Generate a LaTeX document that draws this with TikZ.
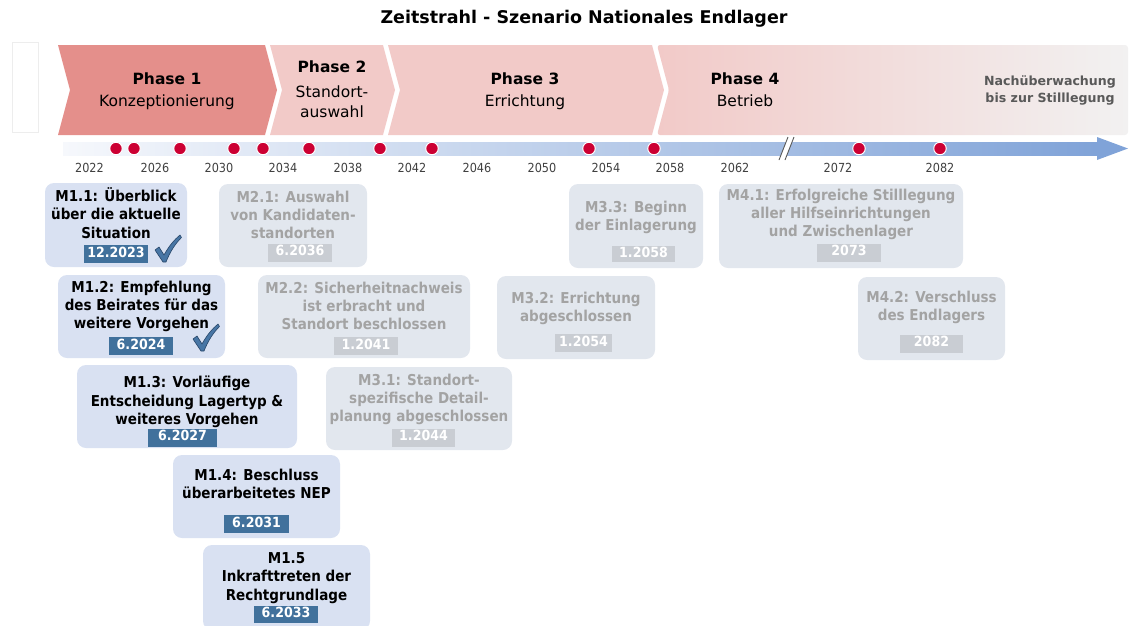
\documentclass[tikz,border=0pt]{standalone}
\usepackage{fontspec}
\setmainfont{DejaVu Sans}
\newfontfamily\condfont{DejaVu Sans Condensed}

% colours
\definecolor{phaseA}{RGB}{228,143,139}
\definecolor{phaseB}{RGB}{242,202,200}
\definecolor{phaseEnd}{RGB}{242,241,241}
\definecolor{barL}{RGB}{246,248,252}
\definecolor{barM}{RGB}{196,213,238}
\definecolor{barR}{RGB}{128,163,216}
\definecolor{dotred}{RGB}{204,0,51}
\definecolor{boxblue}{RGB}{217,225,242}
\definecolor{boxgray}{RGB}{226,231,238}
\definecolor{badgeblue}{RGB}{65,113,156}
\definecolor{badgegray}{RGB}{201,205,211}
\definecolor{textgray}{RGB}{163,163,163}
\definecolor{yeargray}{RGB}{64,64,64}
\definecolor{notegray}{RGB}{89,89,89}
\definecolor{tickblue}{RGB}{72,118,165}
\definecolor{tickedge}{RGB}{40,70,105}

% strut: 1em high, .27em deep, so a node's centre sits on the cap-height centre
\newcommand\capstrut{\rule[-0.27em]{0pt}{1em}}

\tikzset{
  txt/.style={inner sep=0pt, align=center,
    execute at begin node=\capstrut, execute at end node=\capstrut},
  ms box/.style={rounded corners=9pt, inner sep=0pt},
  blue box/.style={ms box, fill=boxblue},
  gray box/.style={ms box, fill=boxgray},
  ms text/.style={txt, font=\condfont\bfseries\fontsize{15}{18.3}\selectfont},
  blue text/.style={ms text, text=black},
  gray text/.style={ms text, text=textgray},
  badge/.style={txt, font=\condfont\bfseries\fontsize{14}{16}\selectfont,
    text=white, minimum height=18pt},
  blue badge/.style={badge, fill=badgeblue},
  gray badge/.style={badge, fill=badgegray},
  year/.style={txt, font=\condfont\fontsize{12.5}{14}\selectfont, text=yeargray},
  dot/.style={circle, fill=dotred, draw=white, line width=1pt,
    minimum size=12.5pt, inner sep=0pt},
  phase title/.style={txt, font=\bfseries\fontsize{15.5}{19}\selectfont},
  phase sub/.style={txt, font=\fontsize{15.5}{20}\selectfont},
  note/.style={txt, font=\bfseries\fontsize{12.6}{17}\selectfont, text=notegray},
  tickmark/.pic={
    \filldraw[fill=tickblue, draw=tickedge, line width=0.6pt, line join=round]
      (0,15) -- (4,12) -- (9,20) .. controls (14,11) and (19,5) .. (25,0)
      -- (26.5,2.5) .. controls (20,9) and (15,17) .. (11,27) -- (8,27) -- cycle;
  },
}

\begin{document}
\begin{tikzpicture}[x=1pt,y=-1pt]
\useasboundingbox (0,0) rectangle (1130,625);
\clip (0,0) rectangle (1130,625);

% title
\node[txt, font=\bfseries\fontsize{17.5}{20}\selectfont] (title) at (584,19)
  {Zeitstrahl - Szenario Nationales Endlager};

% small frame at the left edge
\draw[black!7, line width=0.8pt] (12,42) rectangle (38,132);

% phase chevrons
\fill[phaseA] (58,45) -- (265,45) -- (277,90) -- (265,135) -- (58,135) -- (70,90) -- cycle;
\fill[phaseB] (270,45) -- (383,45) -- (395,90) -- (383,135) -- (270,135) -- (282,90) -- cycle;
\fill[phaseB] (388,45) -- (652,45) -- (664,90) -- (652,135) -- (388,135) -- (400,90) -- cycle;
\shade[left color=phaseB, right color=phaseEnd, rounded corners=3pt]
  (657,45) -- (1128,45) -- (1128,135) -- (657,135) -- (669,90) -- cycle;

% phase labels
\node[phase title] (p1) at (167,81) {Phase 1};
\node[phase sub] (p1s) at (167,102.3) {Konzeptionierung};
\node[phase title] (p2) at (332,69) {Phase 2};
\node[phase sub] (p2s) at (332,103.3) {Standort-\\auswahl};
\node[phase title] (p3) at (525,81) {Phase 3};
\node[phase sub] (p3s) at (525,102.3) {Errichtung};
\node[phase title] (p4) at (745,81) {Phase 4};
\node[phase sub] (p4s) at (745,102.3) {Betrieb};
\node[note] (post) at (1050,90.9) {Nachüberwachung\\bis zur Stilllegung};

% time axis
\shade[left color=barL, middle color=barM, right color=barR] (63,142) rectangle (1097,155);
\fill[barR] (1097,137) -- (1128,148.5) -- (1097,160) -- cycle;

% axis break
\fill[white] (779,160) -- (788,137) -- (794,137) -- (785,160) -- cycle;
\draw[notegray, line width=0.9pt] (779,160) -- (788,137);
\draw[notegray, line width=0.9pt] (785,160) -- (794,137);

% year labels
\foreach \yr/\xx in {2022/89.5, 2026/155, 2030/219, 2034/283, 2038/348, 2042/412,
    2046/477, 2050/542, 2054/606, 2058/670, 2062/735, 2072/838, 2082/940}
  \node[year] (y\yr) at (\xx,170) {\yr};

% milestone dots
\foreach \xx [count=\i] in {116,134,180,234,263,309,380,432,589,654,859,940}
  \node[dot] (d\i) at (\xx,148.5) {};

% ---------- phase 1 milestones ----------
\node[blue box, minimum width=142pt, minimum height=84pt] (m11) at (116,225) {};
\node[blue text] (m11t) at (116,215) {M1.1: Überblick\\über die aktuelle\\Situation};
\node[blue badge, minimum width=64pt] (m11d) at (116,254) {12.2023};
\pic at (155,235) {tickmark};

\node[blue box, minimum width=167pt, minimum height=83pt] (m12) at (141.5,316.5) {};
\node[blue text] (m12t) at (141.5,306.7) {M1.2: Empfehlung\\des Beirates für das\\weitere Vorgehen};
\node[blue badge, minimum width=64pt] (m12d) at (141,346) {6.2024};
\pic at (193,324) {tickmark};

\node[blue box, minimum width=220pt, minimum height=83pt] (m13) at (187,406.5) {};
\node[blue text] (m13t) at (187,402.3) {M1.3: Vorläufige\\Entscheidung Lagertyp \&\\weiteres Vorgehen};
\node[blue badge, minimum width=69pt] (m13d) at (182.5,437.5) {6.2027};

\node[blue box, minimum width=167pt, minimum height=83pt] (m14) at (256.5,496.5) {};
\node[blue text] (m14t) at (256.5,486) {M1.4: Beschluss\\überarbeitetes NEP};
\node[blue badge, minimum width=65pt] (m14d) at (256.5,524) {6.2031};

\node[blue box, minimum width=167pt, minimum height=85pt] (m15) at (286.5,587.5) {};
\node[blue text] (m15t) at (286.5,578.3) {M1.5\\Inkrafttreten der\\Rechtgrundlage};
\node[blue badge, minimum width=64pt, minimum height=17pt] (m15d) at (286,614.5) {6.2033};

% ---------- later milestones ----------
\node[gray box, minimum width=148pt, minimum height=83pt] (m21) at (293,225.5) {};
\node[gray text] (m21t) at (293,216.7) {M2.1: Auswahl\\von Kandidaten-\\standorten};
\node[gray badge, minimum width=64pt] (m21d) at (300,252.5) {6.2036};

\node[gray box, minimum width=212pt, minimum height=83pt] (m22) at (364,316.5) {};
\node[gray text] (m22t) at (364,308) {M2.2: Sicherheitnachweis\\ist erbracht und\\Standort beschlossen};
\node[gray badge, minimum width=64pt] (m22d) at (366,346) {1.2041};

\node[gray box, minimum width=186pt, minimum height=83pt] (m31) at (419,408.5) {};
\node[gray text] (m31t) at (419,400) {M3.1: Standort-\\spezifische Detail-\\planung abgeschlossen};
\node[gray badge, minimum width=63pt] (m31d) at (423.5,437.5) {1.2044};

\node[gray box, minimum width=134pt, minimum height=84pt] (m33) at (636,226) {};
\node[gray text] (m33t) at (636,217.5) {M3.3: Beginn\\der Einlagerung};
\node[gray badge, minimum width=63pt, minimum height=16pt] (m33d) at (643.5,254) {1.2058};

\node[gray box, minimum width=158pt, minimum height=83pt] (m32) at (576,317.5) {};
\node[gray text] (m32t) at (576,308.5) {M3.2: Errichtung\\abgeschlossen};
\node[gray badge, minimum width=57pt] (m32d) at (583.5,343) {1.2054};

\node[gray box, minimum width=244pt, minimum height=84pt] (m41) at (841,226) {};
\node[gray text] (m41t) at (841,215) {M4.1: Erfolgreiche Stilllegung\\aller Hilfseinrichtungen\\und Zwischenlager};
\node[gray badge, minimum width=64pt] (m41d) at (849,252.5) {2073};

\node[gray box, minimum width=147pt, minimum height=83pt] (m42) at (931.5,318.5) {};
\node[gray text] (m42t) at (931.5,308) {M4.2: Verschluss\\des Endlagers};
\node[gray badge, minimum width=63pt] (m42d) at (931.5,343.5) {2082};
\end{tikzpicture}
\end{document}
